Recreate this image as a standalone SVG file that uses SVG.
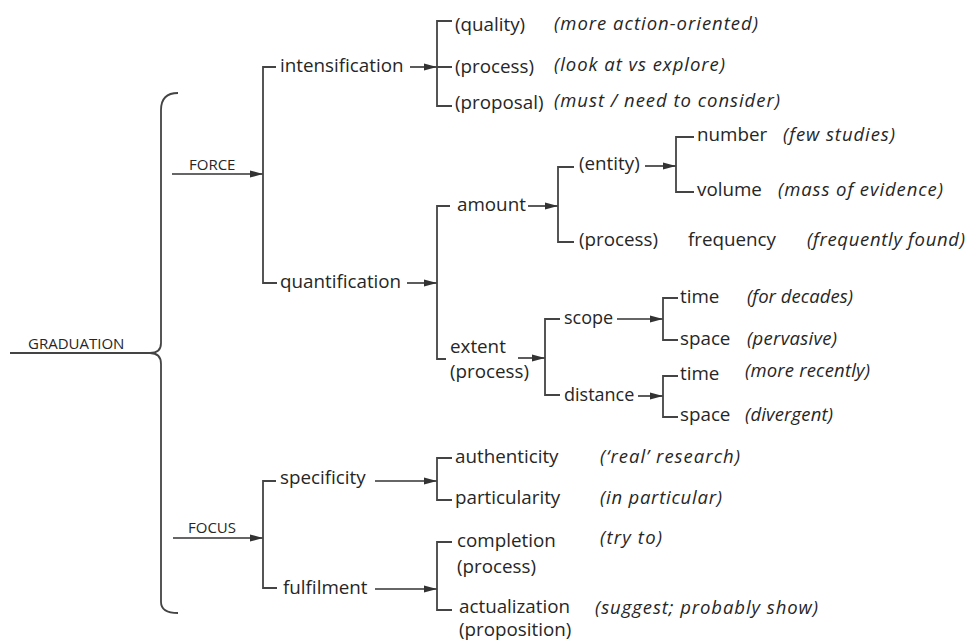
<svg xmlns="http://www.w3.org/2000/svg" width="969" height="641" viewBox="0 0 969 641">
<defs>
<marker id="ah" markerUnits="userSpaceOnUse" markerWidth="14" markerHeight="10" refX="13" refY="4" orient="auto">
<path d="M0,0.5 L13,4 L0,7.5 z" fill="#333"/>
</marker>
<style>
.ln{fill:none;stroke:#444;stroke-width:1.8}
.ar{fill:none;stroke:#333;stroke-width:1.6;marker-end:url(#ah)}
text{font-family:"Open Sans","Liberation Sans",sans-serif;fill:#262626;font-size:18.8px}
.it{font-style:italic;font-size:18.5px}
.cap{font-size:15px}
.sm{font-size:18px}
</style>
</defs>
<rect width="969" height="641" fill="#fff"/>
<g id="connectors">
<path class="ln" d="M178,93 Q161,93 161,110 V343 Q161,353 150,353 Q161,353 161,364 V602 Q161,613 178,613"/>
<path class="ln" d="M10,353 H150"/>
<path class="ar" d="M172,174 H263"/>
<path class="ar" d="M173,538 H263"/>
<path class="ln" d="M276,67 H263 V283 H277"/>
<path class="ar" d="M410,67 H437"/>
<path class="ln" d="M452,21 H437 V106 H452 M437,67 H452"/>
<path class="ar" d="M407,283 H437"/>
<path class="ln" d="M450,206 H437 V359 H446"/>
<path class="ar" d="M528,206 H558"/>
<path class="ln" d="M574,167 H558 V242 H574"/>
<path class="ar" d="M645,166 H676"/>
<path class="ln" d="M694,137 H676 V192 H694"/>
<path class="ar" d="M518,358 H545"/>
<path class="ln" d="M560,319 H545 V395 H560"/>
<path class="ar" d="M617,319 H663"/>
<path class="ln" d="M678,298 H663 V340 H678"/>
<path class="ar" d="M638,396 H663"/>
<path class="ln" d="M678,376 H663 V417 H678"/>
<path class="ln" d="M276,481 H263 V588 H277"/>
<path class="ar" d="M375,481 H437"/>
<path class="ln" d="M452,458 H437 V500 H452"/>
<path class="ar" d="M375,589 H437"/>
<path class="ln" d="M452,542 H437 V610 H452"/>
</g>
<g id="graduation"><text class="cap" x="28" y="349">GRADUATION</text></g>
<g id="force"><text class="cap" x="189" y="170">FORCE</text></g>
<g id="focus"><text class="cap" x="188" y="533">FOCUS</text></g>
<g id="intensification"><text x="280" y="72">intensification</text></g>
<g id="quality"><text x="455" y="31">(quality)</text><text class="it" x="554" y="30" textLength="204" lengthAdjust="spacing">(more action-oriented)</text></g>
<g id="int-process"><text x="455" y="73">(process)</text><text class="it" x="554" y="71" textLength="171" lengthAdjust="spacing">(look at vs explore)</text></g>
<g id="proposal"><text x="455" y="109">(proposal)</text><text class="it" x="554" y="107" textLength="226" lengthAdjust="spacing">(must / need to consider)</text></g>
<g id="quantification"><text x="280" y="288">quantification</text></g>
<g id="amount"><text x="457" y="211">amount</text></g>
<g id="entity"><text x="579" y="170">(entity)</text></g>
<g id="number"><text x="697" y="141">number</text><text class="it" x="783" y="141" textLength="112" lengthAdjust="spacing">(few studies)</text></g>
<g id="volume"><text x="697" y="196">volume</text><text class="it" x="778" y="196" textLength="165" lengthAdjust="spacing">(mass of evidence)</text></g>
<g id="amount-process"><text x="579" y="246">(process)</text><text x="688" y="246">frequency</text><text class="it" x="807" y="246" textLength="158" lengthAdjust="spacing">(frequently found)</text></g>
<g id="extent"><text x="450" y="353">extent</text><text x="450" y="378">(process)</text></g>
<g id="scope"><text class="sm" x="564" y="324">scope</text></g>
<g id="scope-time"><text x="680" y="303">time</text><text class="it" x="747" y="303" textLength="106" lengthAdjust="spacing">(for decades)</text></g>
<g id="scope-space"><text x="680" y="345">space</text><text class="it" x="747" y="345" textLength="90" lengthAdjust="spacing">(pervasive)</text></g>
<g id="distance"><text class="sm" x="564" y="401">distance</text></g>
<g id="distance-time"><text x="680" y="380">time</text><text class="it" x="745" y="377" textLength="125" lengthAdjust="spacing">(more recently)</text></g>
<g id="distance-space"><text x="680" y="421">space</text><text class="it" x="745" y="421" textLength="88" lengthAdjust="spacing">(divergent)</text></g>
<g id="specificity"><text x="280" y="484">specificity</text></g>
<g id="authenticity"><text x="455" y="463">authenticity</text><text class="it" x="600" y="463" textLength="140" lengthAdjust="spacing">(‘real’ research)</text></g>
<g id="particularity"><text x="455" y="504">particularity</text><text class="it" x="600" y="504" textLength="122" lengthAdjust="spacing">(in particular)</text></g>
<g id="fulfilment"><text x="283" y="594">fulfilment</text></g>
<g id="completion"><text x="457" y="547">completion</text><text x="457" y="573">(process)</text><text class="it" x="600" y="544" textLength="62" lengthAdjust="spacing">(try to)</text></g>
<g id="actualization"><text x="459" y="613">actualization</text><text x="459" y="636">(proposition)</text><text class="it" x="595" y="614" textLength="223" lengthAdjust="spacing">(suggest; probably show)</text></g>
</svg>
